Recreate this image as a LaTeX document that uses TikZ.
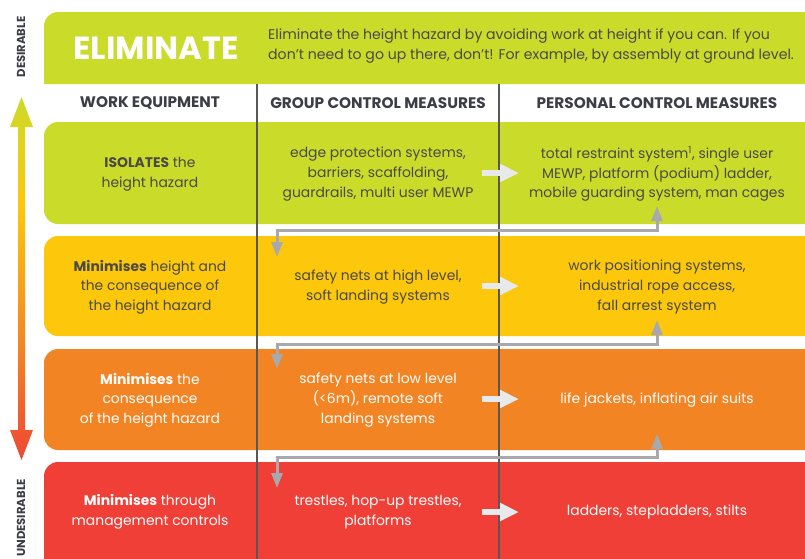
\documentclass[tikz,border=0pt]{standalone}
\usepackage{fontspec}
\setmainfont{Poppins}
\usetikzlibrary{arrows.meta}
\definecolor{limec}{HTML}{CBDB2A}
\definecolor{yellowc}{HTML}{FDC70B}
\definecolor{orangec}{HTML}{F28423}
\definecolor{redc}{HTML}{EF3F37}
\definecolor{connc}{HTML}{A7A9AC}
\definecolor{warrc}{HTML}{E8E9EA}
\definecolor{darkt}{HTML}{4A4A46}
\definecolor{hdrc}{HTML}{3D3D48}
\definecolor{vline}{HTML}{58585A}
\tikzset{
  band/.style={rounded corners=14pt},
  cell/.style={align=center, inner sep=0pt, font={\fontsize{13.9}{19.6}\selectfont}},
  dcell/.style={cell, text=darkt},
  wcell/.style={cell, text=white},
  hdr/.style={inner sep=0pt, text=hdrc, font={\fontsize{15.3}{16}\selectfont\bfseries}},
  side/.style={inner sep=0pt, text=hdrc, rotate=90, font={\fontsize{11.6}{12}\selectfont\bfseries}},
  conn/.style={draw=connc, line width=3pt, {Triangle[width=11pt,length=15pt]}-{Triangle[width=11pt,length=15pt]}},
  warr/.style={draw=warrc, line width=6pt, -{Triangle[width=17pt,length=19pt]}}
}
\begin{document}
\begin{tikzpicture}[x=1pt,y=-1pt]
\useasboundingbox (0,0) rectangle (805,558);
\clip (0,0) rectangle (805,558);
% bands
\fill[limec] (44,84) [rounded corners=14pt] -- (44,12) -- (840,12) [sharp corners] -- (840,84) -- cycle;
\fill[limec, band] (44,122) rectangle (840,224);
\fill[yellowc, band] (44,236) rectangle (840,336);
\fill[orangec, band] (44,349) rectangle (840,450);
\fill[redc, band] (44,462) rectangle (840,590);
% left gradient arrow
\begin{scope}
\clip (21.5,97) -- (33,127) -- (25,127) -- (25,430) -- (33,430) -- (21.5,460) -- (10,430) -- (18,430) -- (18,127) -- (10,127) -- cycle;
\shade[top color=limec, bottom color=yellowc] (8,96) rectangle (35,205);
\shade[top color=yellowc, bottom color=orangec] (8,204) rectangle (35,350);
\shade[top color=orangec, bottom color=redc!90!orangec] (8,349) rectangle (35,462);
\end{scope}
\node[side] (des) at (21,47) {DESIRABLE};
\node[side] (undes) at (21,518) {UNDESIRABLE};
% eliminate
\node[inner sep=0pt, text=white, font={\fontsize{32}{34}\selectfont\bfseries}] (elim) at (156,48) {ELIMINATE};
\node[anchor=west, align=left, inner sep=0pt, text=darkt, font={\fontsize{14.1}{20}\selectfont}] (desc) at (268,46) {Eliminate the height hazard by avoiding work at height if you can. If you\\don't need to go up there, don't! For example, by assembly at ground level.};
% headers
\node[hdr] (h1) at (150,103) {WORK EQUIPMENT};
\node[hdr] (h2) at (378,103) {GROUP CONTROL MEASURES};
\node[hdr] (h3) at (657,103) {PERSONAL CONTROL MEASURES};
% column lines
\draw[vline, line width=1.1pt] (257,84) -- (257,560);
\draw[vline, line width=1.1pt] (499,84) -- (499,560);
% row 1
\node[dcell] (l1) at (150,174) {\textbf{ISOLATES} the\\height hazard};
\node[dcell] (m1) at (378,174) {edge protection systems,\\barriers, scaffolding,\\guardrails, multi user MEWP};
\node[dcell] (p1) at (657,174) {total restraint system\textsuperscript{1}, single user\\MEWP, platform (podium) ladder,\\mobile guarding system, man cages};
% row 2
\node[dcell] (l2) at (150,287) {\textbf{Minimises} height and\\the consequence of\\the height hazard};
\node[dcell] (m2) at (378,287) {safety nets at high level,\\soft landing systems};
\node[dcell] (p2) at (657,287) {work positioning systems,\\industrial rope access,\\fall arrest system};
% row 3
\node[wcell] (l3) at (150,400) {\textbf{Minimises} the\\consequence\\of the height hazard};
\node[wcell] (m3) at (378,400) {safety nets at low level\\(<6m), remote soft\\landing systems};
\node[wcell] (p3) at (657,400) {life jackets, inflating air suits};
% row 4
\node[wcell] (l4) at (150,512) {\textbf{Minimises} through\\management controls};
\node[wcell] (m4) at (378,512) {trestles, hop-up trestles,\\platforms};
\node[wcell] (p4) at (657,512) {ladders, stepladders, stilts};
% connectors
\coordinate (c1a) at (277,257); \coordinate (c1b) at (277,230.5);
\coordinate (c1c) at (657,230.5); \coordinate (c1d) at (657,206);
\coordinate (c2a) at (277,369); \coordinate (c2b) at (277,344.5);
\coordinate (c2c) at (657,344.5); \coordinate (c2d) at (657,320);
\coordinate (c3a) at (277,488); \coordinate (c3b) at (277,457.5);
\coordinate (c3c) at (657,457.5); \coordinate (c3d) at (657,434);
\draw[conn] (c1a) -- (c1b) -- (c1c) -- (c1d);
\draw[conn] (c2a) -- (c2b) -- (c2c) -- (c2d);
\draw[conn] (c3a) -- (c3b) -- (c3c) -- (c3d);
% white arrows
\coordinate (w1a) at (482,173); \coordinate (w1b) at (519,173);
\coordinate (w2a) at (482,286); \coordinate (w2b) at (519,286);
\coordinate (w3a) at (482,399); \coordinate (w3b) at (519,399);
\coordinate (w4a) at (482,512); \coordinate (w4b) at (519,512);
\draw[warr] (w1a) -- (w1b);
\draw[warr] (w2a) -- (w2b);
\draw[warr] (w3a) -- (w3b);
\draw[warr] (w4a) -- (w4b);
\end{tikzpicture}
\end{document}
